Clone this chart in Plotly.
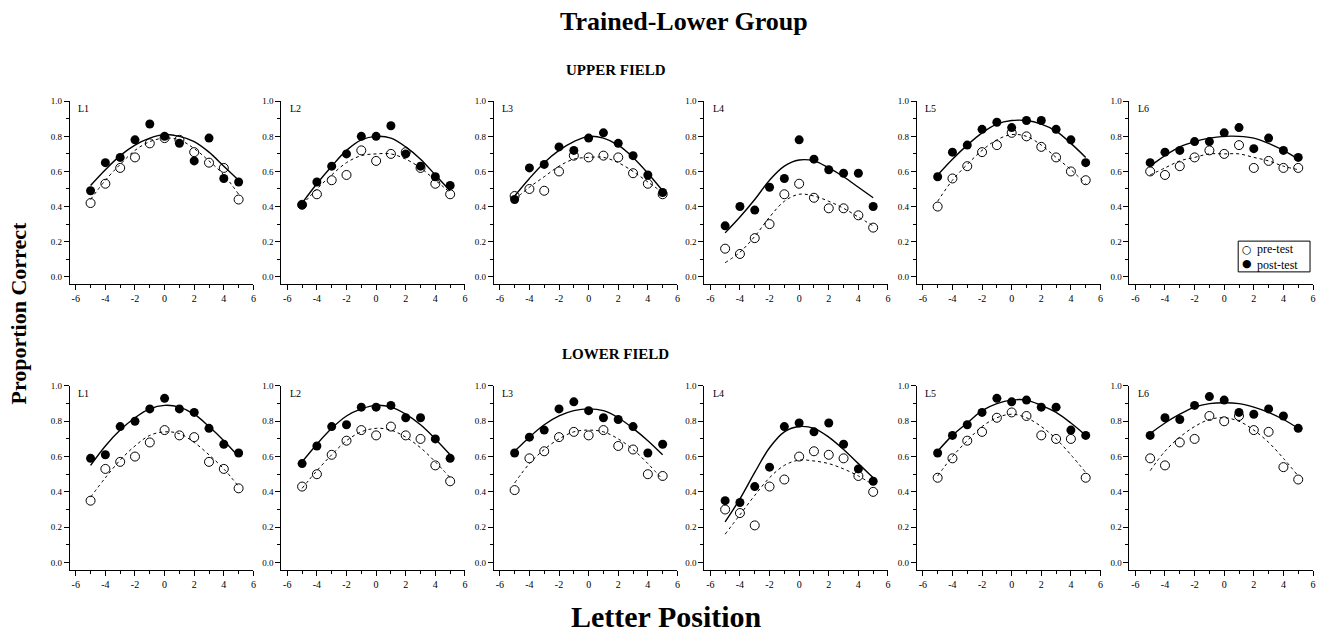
import plotly.graph_objects as go

# ---------------- data ----------------
positions = [-5, -4, -3, -2, -1, 0, 1, 2, 3, 4, 5]
panel_labels = ["L1", "L2", "L3", "L4", "L5", "L6"]
x_tick_vals = [-6, -4, -2, 0, 2, 4, 6]
x_tick_text = ["-6", "-4", "-2", "0", "2", "4", "6"]
y_tick_vals = [0.0, 0.2, 0.4, 0.6, 0.8, 1.0]
y_tick_text = ["0.0", "0.2", "0.4", "0.6", "0.8", "1.0"]
legend_labels = ["pre-test", "post-test"]

upper_pre = [
    [0.42, 0.53, 0.62, 0.68, 0.76, 0.79, 0.78, 0.71, 0.65, 0.62, 0.44],
    [0.41, 0.47, 0.55, 0.58, 0.72, 0.66, 0.70, 0.71, 0.62, 0.53, 0.47],
    [0.46, 0.50, 0.49, 0.60, 0.69, 0.68, 0.69, 0.68, 0.59, 0.53, 0.47],
    [0.16, 0.13, 0.22, 0.30, 0.47, 0.53, 0.45, 0.39, 0.39, 0.35, 0.28],
    [0.40, 0.56, 0.63, 0.71, 0.75, 0.82, 0.80, 0.74, 0.68, 0.60, 0.55],
    [0.60, 0.58, 0.63, 0.68, 0.72, 0.70, 0.75, 0.62, 0.66, 0.62, 0.62],
]
upper_post = [
    [0.49, 0.65, 0.68, 0.78, 0.87, 0.80, 0.76, 0.66, 0.79, 0.56, 0.54],
    [0.41, 0.54, 0.63, 0.70, 0.80, 0.80, 0.86, 0.70, 0.63, 0.57, 0.52],
    [0.44, 0.62, 0.64, 0.74, 0.72, 0.79, 0.82, 0.76, 0.69, 0.58, 0.48],
    [0.29, 0.40, 0.38, 0.51, 0.56, 0.78, 0.67, 0.61, 0.59, 0.59, 0.40],
    [0.57, 0.71, 0.75, 0.84, 0.88, 0.85, 0.89, 0.89, 0.84, 0.78, 0.65],
    [0.65, 0.71, 0.72, 0.77, 0.77, 0.82, 0.85, 0.73, 0.79, 0.72, 0.68],
]
upper_pre_fit = [
    [0.44, 0.55, 0.64, 0.72, 0.77, 0.79, 0.78, 0.73, 0.66, 0.58, 0.47],
    [0.41, 0.50, 0.58, 0.65, 0.69, 0.70, 0.70, 0.67, 0.62, 0.55, 0.48],
    [0.44, 0.51, 0.57, 0.63, 0.67, 0.68, 0.68, 0.65, 0.60, 0.54, 0.48],
    [0.08, 0.14, 0.23, 0.34, 0.43, 0.47, 0.46, 0.43, 0.39, 0.34, 0.29],
    [0.43, 0.55, 0.64, 0.72, 0.78, 0.81, 0.80, 0.75, 0.68, 0.61, 0.53],
    [0.58, 0.62, 0.66, 0.68, 0.70, 0.70, 0.70, 0.68, 0.66, 0.63, 0.61],
]
upper_post_fit = [
    [0.52, 0.61, 0.69, 0.75, 0.79, 0.81, 0.80, 0.77, 0.71, 0.63, 0.55],
    [0.42, 0.53, 0.63, 0.72, 0.78, 0.80, 0.79, 0.74, 0.67, 0.58, 0.49],
    [0.46, 0.56, 0.65, 0.72, 0.77, 0.80, 0.79, 0.75, 0.68, 0.59, 0.49],
    [0.25, 0.34, 0.44, 0.55, 0.63, 0.665, 0.66, 0.62, 0.57, 0.51, 0.45],
    [0.58, 0.67, 0.75, 0.82, 0.87, 0.89, 0.89, 0.87, 0.83, 0.76, 0.68],
    [0.63, 0.69, 0.74, 0.77, 0.79, 0.80, 0.80, 0.79, 0.76, 0.72, 0.67],
]
lower_pre = [
    [0.35, 0.53, 0.57, 0.60, 0.68, 0.75, 0.72, 0.71, 0.57, 0.53, 0.42],
    [0.43, 0.50, 0.61, 0.69, 0.75, 0.72, 0.77, 0.72, 0.70, 0.55, 0.46],
    [0.41, 0.59, 0.63, 0.71, 0.74, 0.72, 0.75, 0.66, 0.64, 0.50, 0.49],
    [0.30, 0.28, 0.21, 0.43, 0.47, 0.60, 0.63, 0.61, 0.59, 0.49, 0.40],
    [0.48, 0.59, 0.69, 0.74, 0.82, 0.85, 0.83, 0.72, 0.70, 0.70, 0.48],
    [0.59, 0.55, 0.68, 0.70, 0.83, 0.80, 0.83, 0.75, 0.74, 0.54, 0.47],
]
lower_post = [
    [0.59, 0.61, 0.77, 0.80, 0.87, 0.93, 0.87, 0.85, 0.76, 0.67, 0.62],
    [0.56, 0.66, 0.77, 0.78, 0.88, 0.88, 0.89, 0.82, 0.82, 0.70, 0.59],
    [0.62, 0.71, 0.75, 0.87, 0.91, 0.86, 0.82, 0.81, 0.77, 0.62, 0.67],
    [0.35, 0.34, 0.43, 0.54, 0.77, 0.79, 0.74, 0.79, 0.67, 0.53, 0.46],
    [0.62, 0.72, 0.78, 0.85, 0.93, 0.91, 0.92, 0.88, 0.88, 0.75, 0.72],
    [0.72, 0.82, 0.81, 0.89, 0.94, 0.92, 0.85, 0.84, 0.87, 0.83, 0.76],
]
lower_pre_fit = [
    [0.37, 0.48, 0.58, 0.66, 0.72, 0.74, 0.73, 0.68, 0.61, 0.53, 0.43],
    [0.42, 0.52, 0.61, 0.69, 0.74, 0.76, 0.75, 0.71, 0.65, 0.57, 0.48],
    [0.45, 0.56, 0.64, 0.70, 0.74, 0.75, 0.74, 0.70, 0.64, 0.56, 0.47],
    [0.16, 0.27, 0.38, 0.48, 0.55, 0.58, 0.575, 0.56, 0.53, 0.49, 0.44],
    [0.49, 0.60, 0.69, 0.77, 0.82, 0.84, 0.82, 0.77, 0.70, 0.61, 0.51],
    [0.52, 0.63, 0.71, 0.77, 0.81, 0.82, 0.80, 0.75, 0.68, 0.59, 0.49],
]
lower_post_fit = [
    [0.55, 0.66, 0.75, 0.82, 0.87, 0.89, 0.88, 0.84, 0.77, 0.69, 0.60],
    [0.57, 0.67, 0.76, 0.83, 0.87, 0.89, 0.88, 0.84, 0.78, 0.70, 0.61],
    [0.63, 0.71, 0.78, 0.83, 0.86, 0.87, 0.86, 0.82, 0.76, 0.69, 0.61],
    [0.23, 0.36, 0.51, 0.65, 0.74, 0.77, 0.76, 0.71, 0.64, 0.56, 0.48],
    [0.63, 0.72, 0.79, 0.86, 0.90, 0.92, 0.92, 0.89, 0.85, 0.79, 0.72],
    [0.73, 0.79, 0.84, 0.88, 0.90, 0.905, 0.90, 0.88, 0.85, 0.81, 0.76],
]

# ---------------- layout geometry ----------------
W, H = 1327, 634
panel_left = [70, 282, 495, 706, 919, 1132]
panel_width = 184
row_top = [97, 384]
row_bottom = [281, 569]
FONT = "Liberation Serif"

fig = go.Figure()
rows = [
    (upper_pre, upper_post, upper_pre_fit, upper_post_fit),
    (lower_pre, lower_post, lower_pre_fit, lower_post_fit),
]

layout_axes = {}
annotations = []
for r, (pre, post, pre_fit, post_fit) in enumerate(rows):
    for c in range(6):
        idx = r * 6 + c + 1
        xs = "x" if idx == 1 else f"x{idx}"
        ys = "y" if idx == 1 else f"y{idx}"
        fig.add_trace(go.Scatter(
            x=positions, y=pre_fit[c], xaxis=xs, yaxis=ys, mode="lines",
            line=dict(color="black", width=1, dash="3px,3px", shape="spline", smoothing=1.0),
            showlegend=False, hoverinfo="skip"))
        fig.add_trace(go.Scatter(
            x=positions, y=post_fit[c], xaxis=xs, yaxis=ys, mode="lines",
            line=dict(color="black", width=1.4, shape="spline", smoothing=1.0),
            showlegend=False, hoverinfo="skip"))
        fig.add_trace(go.Scatter(
            x=positions, y=pre[c], xaxis=xs, yaxis=ys, mode="markers",
            marker=dict(symbol="circle-open", size=9, color="black", line=dict(width=1)),
            name=legend_labels[0], showlegend=False, cliponaxis=False))
        fig.add_trace(go.Scatter(
            x=positions, y=post[c], xaxis=xs, yaxis=ys, mode="markers",
            marker=dict(symbol="circle", size=9, color="black"),
            name=legend_labels[1], showlegend=False, cliponaxis=False))

        xkey = "xaxis" if idx == 1 else f"xaxis{idx}"
        ykey = "yaxis" if idx == 1 else f"yaxis{idx}"
        l = panel_left[c]
        layout_axes[xkey] = dict(
            domain=[l / W, (l + panel_width) / W], range=[-6.4, 6.0], anchor=ys,
            showline=True, linecolor="black", linewidth=1, showgrid=False, zeroline=False,
            ticks="outside", ticklen=5, tickwidth=1, tickcolor="black",
            tickmode="array", tickvals=x_tick_vals, ticktext=x_tick_text,
            tickfont=dict(family=FONT, size=10, color="black"),
            minor=dict(tickmode="array", tickvals=[-5, -3, -1, 1, 3, 5], ticks="outside",
                       ticklen=3, tickcolor="black", showgrid=False),
            fixedrange=True)
        layout_axes[ykey] = dict(
            domain=[1 - row_bottom[r] / H, 1 - row_top[r] / H], range=[-0.04, 1.0], anchor=xs,
            showline=True, linecolor="black", linewidth=1, showgrid=False, zeroline=False,
            ticks="outside", ticklen=5, tickwidth=1, tickcolor="black",
            tickmode="array", tickvals=y_tick_vals, ticktext=y_tick_text,
            tickfont=dict(family=FONT, size=9, color="black"),
            minor=dict(tickmode="array", tickvals=[0.1, 0.3, 0.5, 0.7, 0.9], ticks="outside",
                       ticklen=3, tickcolor="black", showgrid=False),
            fixedrange=True)
        annotations.append(dict(
            text=panel_labels[c], xref=f"{xs} domain", yref=f"{ys} domain",
            x=0.035, y=1.0, xanchor="left", yanchor="top", showarrow=False,
            font=dict(family=FONT, size=10, color="black")))

annotations += [
    dict(text="<b>Trained-Lower Group</b>", xref="paper", yref="paper",
         x=686 / W, y=1 - 17 / H, xanchor="center", yanchor="middle", showarrow=False,
         font=dict(family=FONT, size=26, color="black")),
    dict(text="<b>UPPER FIELD</b>", xref="paper", yref="paper",
         x=617 / W, y=1 - 66 / H, xanchor="center", yanchor="middle", showarrow=False,
         font=dict(family=FONT, size=15, color="black")),
    dict(text="<b>LOWER FIELD</b>", xref="paper", yref="paper",
         x=617 / W, y=1 - 352 / H, xanchor="center", yanchor="middle", showarrow=False,
         font=dict(family=FONT, size=15, color="black")),
    dict(text="<b>Letter Position</b>", xref="paper", yref="paper",
         x=668 / W, y=0, xanchor="center", yanchor="bottom", showarrow=False,
         borderpad=0, font=dict(family=FONT, size=30, color="black")),
    dict(text="<b>Proportion Correct</b>", xref="paper", yref="paper",
         x=19 / W, y=1 - 310 / H, xanchor="center", yanchor="middle", showarrow=False,
         textangle=-90, font=dict(family=FONT, size=22, color="black")),
    # legend (upper-field L6 panel): symbols column and labels column
    dict(text="\u25cb<br>\u25cf", xref="paper", yref="paper", x=1250 / W, y=1 - 253.5 / H,
         xanchor="center", yanchor="middle", showarrow=False, borderpad=0,
         font=dict(family="DejaVu Sans", size=11, color="black")),
    dict(text=legend_labels[0] + "<br>" + legend_labels[1], xref="paper", yref="paper",
         x=1259 / W, y=1 - 253.5 / H, xanchor="left", yanchor="middle", align="left",
         showarrow=False, borderpad=0,
         font=dict(family=FONT, size=12, color="black")),
]

fig.update_layout(
    width=W, height=H, autosize=False,
    margin=dict(l=0, r=0, t=0, b=0),
    paper_bgcolor="white", plot_bgcolor="white",
    font=dict(family=FONT, color="black"),
    annotations=annotations,
    shapes=[dict(type="rect", xref="paper", yref="paper",
                 x0=1241 / W, x1=1313 / W, y0=1 - 269 / H, y1=1 - 238 / H,
                 line=dict(color="black", width=1), fillcolor="rgba(0,0,0,0)")],
    showlegend=False,
    **layout_axes,
)

fig.write_html("out.html")
